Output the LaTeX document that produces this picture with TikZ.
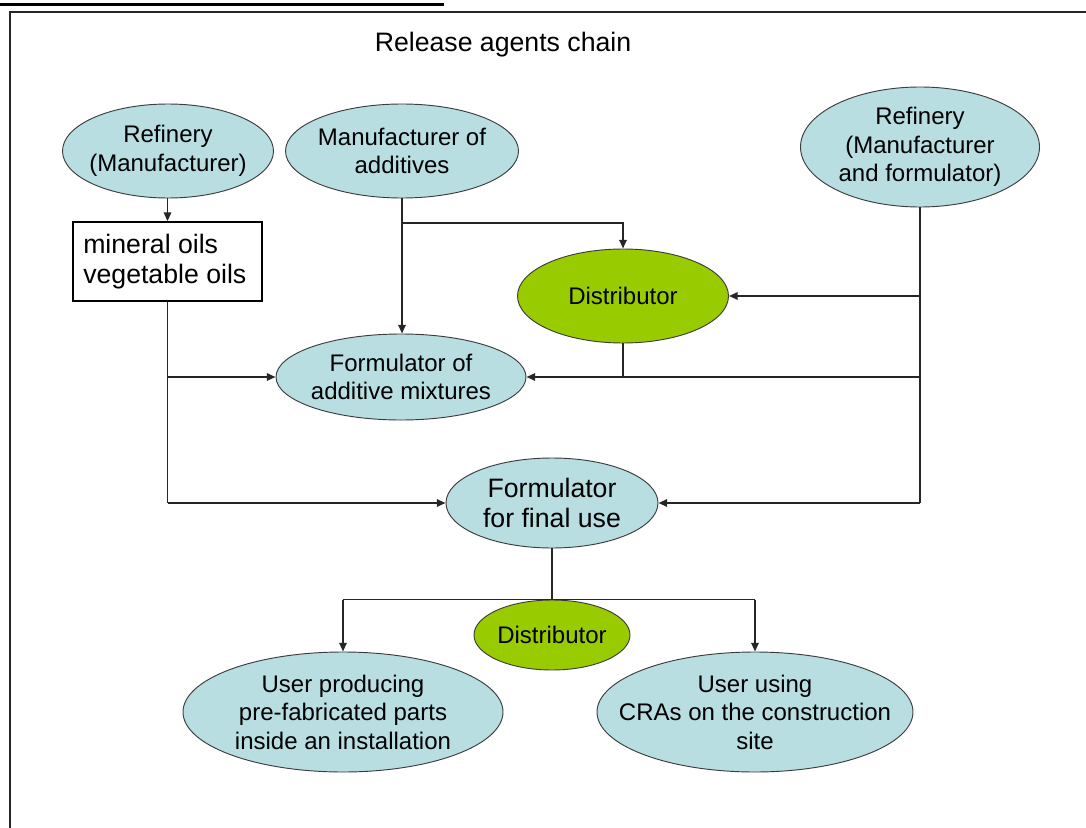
\documentclass[tikz,border=0pt]{standalone}
\usepackage{fontspec}
\setmainfont{Liberation Sans}
\usetikzlibrary{shapes.geometric,arrows.meta}
\definecolor{lblue}{RGB}{184,222,226}
\definecolor{lgreen}{RGB}{153,204,0}
\definecolor{edge}{RGB}{60,60,60}
\tikzset{
  bell/.style 2 args={ellipse, draw=edge, fill=lblue, line width=0.7pt, inner sep=0pt,
     minimum width={#1*0.75pt}, minimum height={#2*0.75pt}},
  gell/.style 2 args={bell={#1}{#2}, fill=lgreen},
  lbl/.style={align=center, inner sep=0pt, font=\fontsize{18pt}{21.4pt}\selectfont},
  bigl/.style={align=center, inner sep=0pt, font=\fontsize{20pt}{23pt}\selectfont},
  conn/.style={draw=black!85, line width=1.35pt},
  arr/.style={conn, -{Triangle[length=6.5pt,width=5.5pt]}},
}
\begin{document}
\begin{tikzpicture}[x=0.75pt,y=-0.75pt]
\useasboundingbox (0,0) rectangle (1086,828);
% frame and cut header underline
\draw[line width=1.5pt, black!85] (10,828) -- (10,12) -- (1086,12);
\draw[line width=2.2pt] (0,4.5) -- (444,4.5);
% title
\node[bigl] (title) at (503,45) {Release agents chain};
% nodes
\node[bell={211}{94}] (r1) at (168,151) {};
\node[lbl] at (r1) {Refinery\\(Manufacturer)};
\node[bell={233}{94}] (add) at (402,151) {};
\node[lbl] at (add) {Manufacturer of\\additives};
\node[bell={239}{120}] (r2) at (920,147) {};
\node[lbl] at (r2) {Refinery\\(Manufacturer\\and formulator)};
\node[draw=black, line width=1.3pt, fill=white, minimum width={189*0.75pt}, minimum height={79*0.75pt}, inner sep=0pt] (box) at (167.5,261.5) {};
\node[bigl, align=left, anchor=west] at (83,261.5) {mineral oils\\vegetable oils};
\node[gell={211}{94}] (dist1) at (623,296) {};
\node[lbl] at (dist1) {Distributor};
\node[bell={250}{86}] (fam) at (401,377) {};
\node[lbl] at (fam) {Formulator of\\additive mixtures};
\node[bell={212}{90}] (ffu) at (552,503) {};
\node[bigl] at (ffu) {Formulator\\for final use};
\node[gell={156}{70}] (dist2) at (552,635) {};
\node[lbl] at (dist2) {Distributor};
\node[bell={320}{120}] (u1) at (343,712) {};
\node[lbl] at (u1) {User producing\\pre-fabricated parts\\inside an installation};
\node[bell={316}{120}] (u2) at (755,712) {};
\node[lbl] at (u2) {User using\\CRAs on the construction\\site};
% connectors
\draw[arr] (r1.south -| box.north) -- (box.north);
\draw[arr] (add.south) -- (add.south |- fam.north);
\coordinate (j1) at (add.south |- 0,223);
\draw[arr] (j1) -| (dist1.north);
\draw[conn] (r2.south) -- (r2.south |- ffu.east) coordinate (r2b);
\draw[arr] (r2.south |- dist1.east) -- (dist1.east);
\draw[arr] (r2.south |- fam.east) -- (fam.east);
\draw[arr] (r2b) -- (ffu.east);
\draw[conn] (dist1.south) -- (dist1.south |- fam.east);
\draw[conn] (box.south) -- (box.south |- ffu.west) coordinate (bxb);
\draw[arr] (bxb) -- (ffu.west);
\draw[arr] (box.south |- fam.west) -- (fam.west);
\draw[conn] (ffu.south) -- (dist2.north);
\coordinate (jl) at (u1.north |- dist2.north);
\coordinate (jr) at (u2.north |- dist2.north);
\draw[conn] (jl) -- (jr);
\draw[arr] (jl) -- (u1.north);
\draw[arr] (jr) -- (u2.north);
\end{tikzpicture}
\end{document}
